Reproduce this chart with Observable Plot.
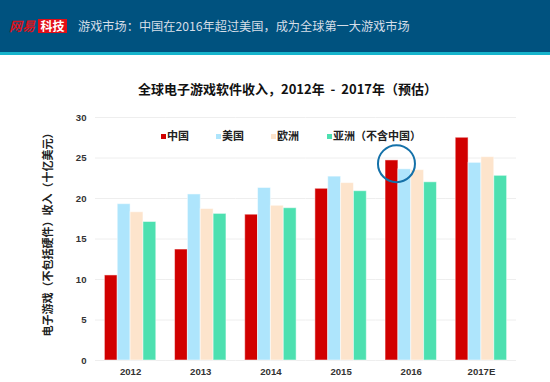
<!DOCTYPE html>
<html>
<head>
<meta charset="utf-8">
<script src="https://cdn.jsdelivr.net/npm/d3@7"></script>
<script src="https://cdn.jsdelivr.net/npm/@observablehq/plot@0.6"></script>
<style>
  html, body { margin: 0; padding: 0; background: #fff; }
  #wrap { position: relative; width: 550px; height: 382px; overflow: hidden; background: #fff;
          font-family: "Liberation Sans", "Noto Sans CJK SC", sans-serif; }
  #header { position: absolute; left: 0; top: 0; width: 550px; height: 52px; background: #00527F;
            border-bottom: 3px solid #16B4CC; }
  #logo1 { position: absolute; left: 9px; top: 17px; font: italic bold 13px "Noto Sans CJK SC", sans-serif; color: #D7141E; line-height: 17px; }
  #logo2 { position: absolute; left: 38px; top: 19px; width: 29px; height: 14px; background: #E20E17; color: #fff;
           font: bold 12px "Noto Sans CJK SC", sans-serif; line-height: 14px; text-align: center; }
  #htitle { position: absolute; left: 78px; top: 17px; font: 12.2px "Noto Sans CJK SC", sans-serif; color: #D6DEE8; line-height: 18px; white-space: nowrap; }
  #title { position: absolute; left: 0; width: 575px; top: 80px; text-align: center; font: bold 13px "Noto Sans CJK SC", sans-serif; color: #111; line-height: 18px; white-space: pre; }
  #ylabel { position: absolute; left: 47px; top: 232px; transform: translate(-50%, -50%) rotate(-90deg);
            font: bold 11px "Noto Sans CJK SC", sans-serif; color: #222; white-space: nowrap; }
  #legend { position: absolute; top: 127px; left: 0; height: 16px; font: bold 11px "Noto Sans CJK SC", sans-serif; color: #222; }
  .li { position: absolute; top: 0; white-space: nowrap; line-height: 16px; }
  .sw { display: inline-block; width: 5px; height: 5px; margin-right: 1px; vertical-align: 1px; }
  #chart { position: absolute; left: 0; top: 55px; }
</style>
</head>
<body>
<div id="wrap">
  <div id="header">
    <div id="logo1">网易</div>
    <div id="logo2">科技</div>
    <div id="htitle">游戏市场：中国在2016年超过美国，成为全球第一大游戏市场</div>
  </div>
  <div id="title">全球电子游戏软件收入，2012年  -  2017年（预估）</div>
  <div id="ylabel">电子游戏（不包括硬件）收入（十亿美元）</div>
  <div id="legend"></div>
  <div id="chart"></div>
</div>
<script>
const years = ["2012", "2013", "2014", "2015", "2016", "2017E"];
const series = ["中国", "美国", "欧洲", "亚洲（不含中国）"];
const china  = [10.5, 13.7, 18.0, 21.2, 24.7, 27.5];
const usa    = [19.3, 20.5, 21.3, 22.7, 23.6, 24.4];
const europe = [18.3, 18.7, 19.1, 21.9, 23.5, 25.1];
const asia   = [17.1, 18.1, 18.8, 20.9, 22.0, 22.8];
const colors = ["#D10000", "#AEE5FC", "#FDE4CC", "#4DE0B0"];
const yTicks = [0, 5, 10, 15, 20, 25, 30];
// highlight annotation (circle around China 2016)
const highlight = [{year: "2016", series: "中国", value: 24.3}];
const legendX = [161, 216, 271, 327];

const seriesValues = [china, usa, europe, asia];
const data = years.flatMap((yr, i) => series.map((s, j) => ({year: yr, series: s, value: seriesValues[j][i]})));

const chart = Plot.plot({
  width: 550,
  height: 327,
  marginTop: 62,
  marginBottom: 22,
  marginLeft: 95,
  marginRight: 34,
  style: {fontFamily: "'Liberation Sans', 'Noto Sans CJK SC', sans-serif", fontSize: "10px", color: "#222", background: "transparent"},
  fx: {domain: years, padding: 0, round: false, label: null},
  x: {domain: series, paddingInner: 0, paddingOuter: 0.73, round: false, axis: null},
  y: {domain: [0, 30], label: null},
  color: {domain: series, range: colors},
  marks: [
    Plot.ruleY(yTicks, {stroke: "#eeeeee", strokeWidth: 1}),
    Plot.axisY({ticks: yTicks, tickSize: 0, tickPadding: 9, label: null, fontSize: 9.6, fontWeight: "bold", fill: "#333"}),
    Plot.axisFx({anchor: "bottom", tickSize: 0, tickPadding: 8, label: null, fontSize: 9.6, fontWeight: "bold", fill: "#333"}),
    Plot.barY(data, {fx: "year", x: "series", y: "value", fill: "series", stroke: "#fff", strokeOpacity: 0.5, strokeWidth: 1}),
    Plot.dot(highlight, {fx: "year", x: "series", y: "value", r: 18.5, dx: 4.5, stroke: "#1471A9", strokeWidth: 2, fill: "none"})
  ]
});
document.getElementById("chart").appendChild(chart);

const legend = document.getElementById("legend");
series.forEach((s, i) => {
  const item = document.createElement("div");
  item.className = "li";
  item.style.left = legendX[i] + "px";
  const sw = document.createElement("span");
  sw.className = "sw";
  sw.style.background = colors[i];
  item.appendChild(sw);
  item.appendChild(document.createTextNode(s));
  legend.appendChild(item);
});
</script>
</body>
</html>
